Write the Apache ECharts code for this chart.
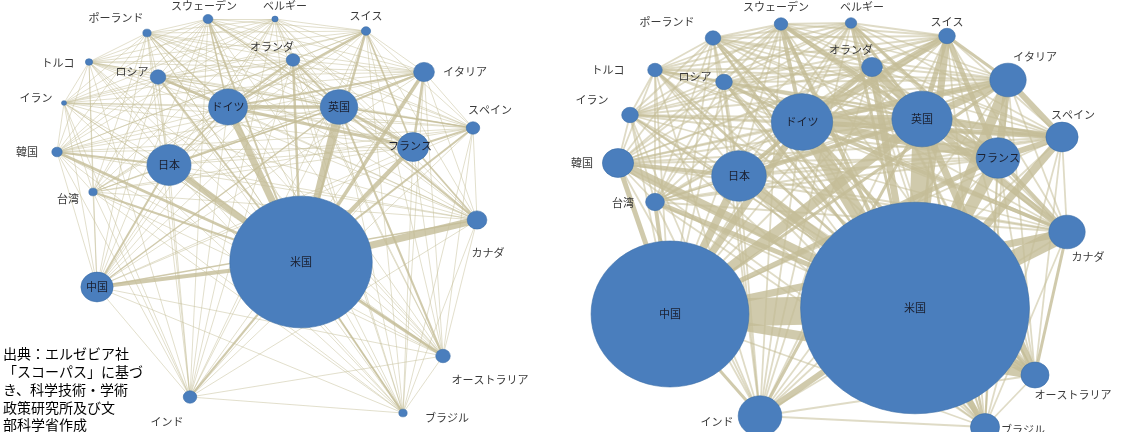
<!DOCTYPE html>
<html><head><meta charset="utf-8">
<script src="https://cdn.jsdelivr.net/npm/echarts@6/dist/echarts.min.js"></script>
<style>html,body{margin:0;padding:0;background:#fff}#c{width:1129px;height:432px}</style>
</head><body><div id="c"></div>
<script>
// Countries (nodes)
const countries = ['米国','中国','英国','ドイツ','日本','フランス','イタリア','カナダ','スペイン','オーストラリア','韓国','インド','オランダ','スイス','スウェーデン','ベルギー','ポーランド','ロシア','トルコ','イラン','台湾','ブラジル'];

// Network layout coordinates (panel units), earlier period
const layoutXA = [301, 97, 339, 228, 169, 413, 424, 477, 473, 443, 57, 190, 293, 366, 208, 275, 147, 158, 89, 64, 93, 403];
const layoutYA = [262, 287, 107, 107, 165, 147, 72, 220, 128, 356, 152, 397, 60, 31, 19, 19, 33, 77, 62, 103, 192, 413];
// later period
const layoutXB = [351, 106, 358, 238, 175, 434, 444, 503, 498, 471, 54, 196, 308, 383, 217, 287, 149, 160, 91, 66, 91, 421];
const layoutYB = [308, 314, 119, 122, 176, 158, 80, 232, 137, 375, 163, 416, 67, 36, 24, 23, 38, 82, 70, 115, 202, 427];

// Paper volumes (relative units, node area)
const papersA = [469, 24, 32.4, 35, 45, 22.5, 10, 9, 4.2, 4.9, 2.5, 4.2, 4.2, 2, 2.2, 0.9, 1.6, 5.6, 1.2, 0.6, 1.6, 1.6];
const papersB = [1210, 576, 84, 87, 69, 44, 30.6, 30.6, 24, 18.2, 22.5, 44, 10, 6.4, 4.2, 3, 5.6, 6.4, 4.9, 6.4, 8.1, 19.6];

// Co-authorship weights (notable pairs); every other pair has the base weight
const baseWeightA = 0.9;
const linksA = [
 ['米国','英国',7],['米国','ドイツ',7],['米国','日本',6],['米国','カナダ',7],['米国','中国',4],['米国','フランス',4.5],['米国','イタリア',3.5],['米国','韓国',3],['米国','オーストラリア',3],['米国','台湾',2],['米国','オランダ',2.5],['米国','スイス',2.5],['米国','スペイン',2],['米国','スウェーデン',2],['米国','ロシア',2],['米国','インド',2],['米国','ブラジル',2],
 ['英国','ドイツ',3.5],['英国','フランス',3],['ドイツ','フランス',3],['ドイツ','ロシア',2.5],['英国','イタリア',2],['ドイツ','イタリア',2],['フランス','イタリア',2.5],['英国','オランダ',2],['ドイツ','オランダ',2],['ドイツ','スイス',2.5],['フランス','スイス',1.8],['日本','中国',2],['日本','韓国',1.8],['英国','カナダ',2],['英国','オーストラリア',2],['フランス','スペイン',2],['英国','スペイン',1.5],['ドイツ','日本',1.5],['英国','日本',1.5],['フランス','カナダ',1.8],['ドイツ','ポーランド',1.5],['英国','中国',1.5],['中国','カナダ',1.3],['ドイツ','スウェーデン',1.5],['英国','スウェーデン',1.5]
];
const baseWeightB = 1.8;
const linksB = [
 ['米国','中国',28],['米国','英国',18],['米国','ドイツ',15],['米国','カナダ',17],['米国','日本',10],['米国','フランス',12],['米国','イタリア',10],['米国','韓国',9],['米国','オーストラリア',9],['米国','スペイン',8],['米国','オランダ',7],['米国','スイス',7],['米国','インド',6],['米国','ブラジル',6],['米国','台湾',5],['米国','スウェーデン',4],['米国','ロシア',3],['米国','ベルギー',3],['米国','ポーランド',2.5],['米国','トルコ',2.5],['米国','イラン',2],
 ['中国','英国',10],['中国','日本',8],['中国','ドイツ',7],['中国','カナダ',7],['中国','オーストラリア',9],['中国','韓国',5],['中国','台湾',4],['中国','フランス',5],['中国','イタリア',3],['中国','インド',3],
 ['英国','ドイツ',10],['英国','フランス',8],['ドイツ','フランス',8],['英国','イタリア',7],['ドイツ','イタリア',6],['フランス','イタリア',7],['英国','スペイン',6],['ドイツ','スペイン',5],['フランス','スペイン',6],['イタリア','スペイン',6],['英国','オランダ',7],['ドイツ','オランダ',6],['ドイツ','スイス',7],['英国','スイス',5],['フランス','スイス',5],['英国','オーストラリア',7],['英国','カナダ',6],['ドイツ','ロシア',3],['フランス','カナダ',4],['ドイツ','日本',4],['英国','日本',4],['日本','韓国',4],['英国','スウェーデン',4],['ドイツ','スウェーデン',4],['ドイツ','ポーランド',3],['英国','インド',3],['ドイツ','カナダ',4],['ドイツ','オーストラリア',4],['英国','ベルギー',3],['フランス','ベルギー',3],['オーストラリア','カナダ',3],['イタリア','スイス',3],['英国','ブラジル',2.5],['フランス','ブラジル',2]
];

const sourceLines = ['出典：エルゼビア社','「スコーパス」に基づ','き、科学技術・学術','政策研究所及び文','部科学省作成'];

// ---- styles ----
const FONT = 'Noto Sans CJK JP';
const NODE_COLOR = '#4a7ebd';
const EDGE_COLOR = '#c4bd97';
const ASPECT = 1.04;
const insideNames = ['米国','中国','英国','ドイツ','日本','フランス'];
const labelOffA = {'スウェーデン':[-4,-13],'ベルギー':[10,-13],'ポーランド':[-31,-15],'スイス':[0,-15],'オランダ':[-21,-13],'トルコ':[-31,1],'ロシア':[-26,-5],'イタリア':[41,0],'イラン':[-28,-5],'スペイン':[17,-18],'フランス':[-3,-1],'韓国':[-30,0],'台湾':[-25,7],'カナダ':[11,33],'オーストラリア':[47,24],'ブラジル':[44,5],'インド':[-23,25]};
const labelOffB = {'スウェーデン':[-5,-17],'ベルギー':[11,-16],'ポーランド':[-46,-16],'スイス':[0,-14],'オランダ':[-21,-17],'トルコ':[-47,0],'ロシア':[-29,-5],'イタリア':[27,-23],'イラン':[-38,-15],'スペイン':[11,-22],'韓国':[-36,0],'台湾':[-32,1],'カナダ':[21,25],'オーストラリア':[38,20],'ブラジル':[38,3],'インド':[-43,6]};

function buildNodes(xs, ys, papers, offs) {
  return countries.map((name, i) => {
    const d = 2 * Math.sqrt(papers[i] * 10);
    const inside = insideNames.indexOf(name) >= 0;
    return {
      name: name,
      value: [xs[i], ys[i]],
      symbolSize: [d * ASPECT, d / ASPECT],
      label: {
        show: true, position: 'inside',
        offset: offs[name] || [0, 0],
        color: inside ? '#1b2030' : '#3a3a3a',
        fontSize: 11, fontFamily: FONT
      }
    };
  });
}
function buildLinks(list, base) {
  const w = {};
  list.forEach(([a, b, v]) => { w[a + '|' + b] = v; w[b + '|' + a] = v; });
  const out = [];
  for (let i = 0; i < countries.length; i++) {
    for (let j = i + 1; j < countries.length; j++) {
      const v = w[countries[i] + '|' + countries[j]] || base;
      out.push({ source: i, target: j, value: v,
        lineStyle: { width: v, opacity: v <= base ? 0.55 : 0.8 } });
    }
  }
  // thin edges first, thick on top
  out.sort((a, b) => a.value - b.value);
  return out;
}

const chart = echarts.init(document.getElementById('c'), null, { renderer: 'canvas' });
const axisX = (gi) => ({ gridIndex: gi, type: 'value', min: 0, max: 565, show: false });
const axisY = (gi) => ({ gridIndex: gi, type: 'value', min: 0, max: 432, inverse: true, show: false });
function series(gi, nodes, links) {
  return {
    type: 'graph', layout: 'none', coordinateSystem: 'cartesian2d',
    xAxisIndex: gi, yAxisIndex: gi,
    data: nodes, links: links,
    itemStyle: { color: NODE_COLOR, borderColor: '#3d6ea8', borderWidth: 0.6 },
    lineStyle: { color: EDGE_COLOR, curveness: 0 },
    emphasis: { disabled: true },
    silent: true, z: 2
  };
}
chart.setOption({
  animation: false,
  grid: [
    { left: 0, top: 0, width: 565, height: 432 },
    { left: 564, top: 0, width: 565, height: 432 }
  ],
  xAxis: [axisX(0), axisX(1)],
  yAxis: [axisY(0), axisY(1)],
  graphic: [{
    type: 'text', left: 3, top: 345, z: 10,
    style: { text: sourceLines.join('\n'), fontSize: 14, lineHeight: 17.8, fill: '#000', fontFamily: FONT }
  }],
  series: [
    series(0, buildNodes(layoutXA, layoutYA, papersA, labelOffA), buildLinks(linksA, baseWeightA)),
    series(1, buildNodes(layoutXB, layoutYB, papersB, labelOffB), buildLinks(linksB, baseWeightB))
  ]
});
</script></body></html>
